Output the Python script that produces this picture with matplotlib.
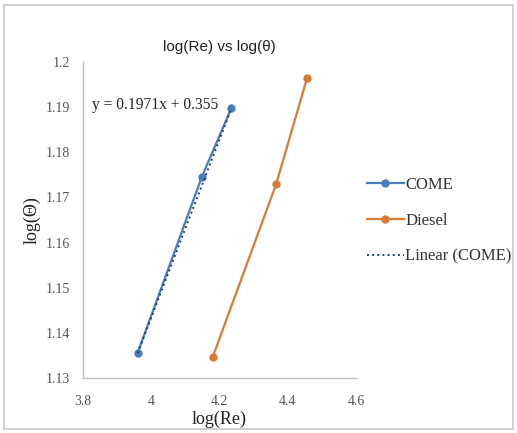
import matplotlib.pyplot as plt
import numpy as np
from matplotlib.patches import Rectangle

# log(Re) and log(theta) readings for both fuels
come_re = [3.96, 4.148, 4.235]
come_theta = [1.1355, 1.1745, 1.1898]
diesel_re = [4.18, 4.366, 4.457]
diesel_theta = [1.1346, 1.1729, 1.1965]
x_ticks = [3.8, 4.0, 4.2, 4.4, 4.6]
x_tick_labels = ['3.8', '4', '4.2', '4.4', '4.6']
y_ticks = [1.13, 1.14, 1.15, 1.16, 1.17, 1.18, 1.19, 1.2]
y_tick_labels = ['1.13', '1.14', '1.15', '1.16', '1.17', '1.18', '1.19', '1.2']
trend_slope = 0.1971
trend_intercept = 0.355

blue = '#4A7EBB'
orange = '#D97B34'
serif = ['Liberation Serif', 'DejaVu Serif']

fig = plt.figure(figsize=(5.17, 4.33), dpi=100)
fig.patches.append(Rectangle((0.008, 0.01), 0.985, 0.978, transform=fig.transFigure,
                             fill=False, edgecolor='#c8c8c8', linewidth=1.2))

ax = fig.add_axes([0.1605, 0.127, 0.528, 0.73])

ax.plot(come_re, come_theta, color=blue, linewidth=1.6, marker='o', markersize=5,
        markerfacecolor=blue, markeredgecolor=blue, label='COME')
ax.plot(diesel_re, diesel_theta, color=orange, linewidth=1.6, marker='o', markersize=5,
        markerfacecolor=orange, markeredgecolor=orange, label='Diesel')

# linear fit through the COME series
fit_x = np.array([min(come_re), max(come_re)])
ax.plot(fit_x, trend_slope * fit_x + trend_intercept, color='#1F3E6E', linestyle=':',
        linewidth=1.4, label='Linear (COME)')

ax.text(3.826, 1.1905, f'y = {trend_slope}x + {trend_intercept}', fontsize=11.2,
        family=serif, color='#222222', ha='left', va='center')

ax.set_xlim(3.8, 4.6)
ax.set_ylim(1.13, 1.2)
ax.set_xticks(x_ticks)
ax.set_xticklabels(x_tick_labels, family=serif, fontsize=10, color='#555555')
ax.set_yticks(y_ticks)
ax.set_yticklabels(y_tick_labels, family=serif, fontsize=10, color='#555555')
ax.tick_params(axis='x', length=0, pad=12)
ax.tick_params(axis='y', length=0, pad=9)

for side in ['top', 'right']:
    ax.spines[side].set_visible(False)
for side in ['left', 'bottom']:
    ax.spines[side].set_color('#bfbfbf')
    ax.spines[side].set_linewidth(1.0)

ax.set_title('log(Re) vs log(\u03b8)', fontsize=11, family=['Liberation Sans', 'DejaVu Sans'],
             color='#222222', pad=8)
ax.set_xlabel('log(Re)', family=serif, fontsize=13, labelpad=2, color='#222222')
ax.set_ylabel('log(\u0398)', family=serif, fontsize=13, labelpad=4, color='#222222')

leg = fig.legend(loc='upper left', bbox_to_anchor=(0.71, 0.592), frameon=False,
                 prop={'family': serif, 'size': 12}, handlelength=2.2, handletextpad=0.1,
                 labelspacing=1.2, borderpad=0, borderaxespad=0)
for t in leg.get_texts():
    t.set_color('#333333')

fig.savefig('out.png', dpi=100)
